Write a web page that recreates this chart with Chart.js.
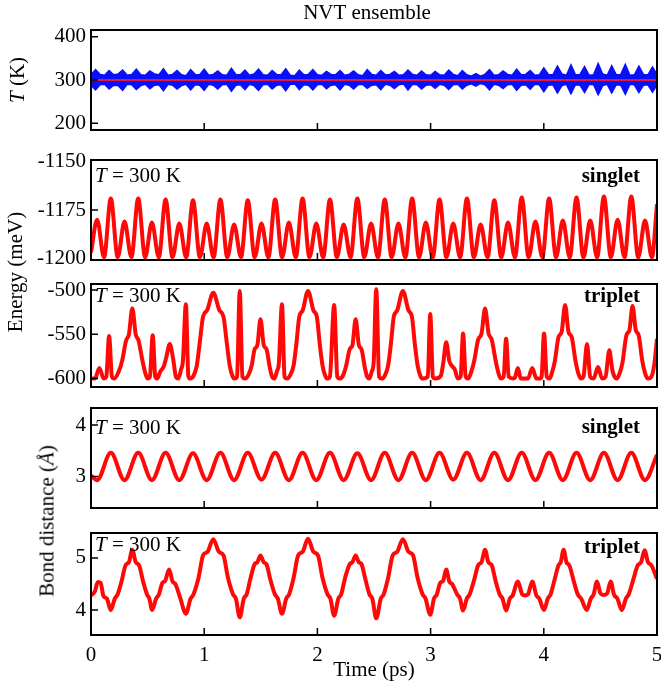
<!DOCTYPE html>
<html>
<head>
<meta charset="utf-8">
<script src="https://cdn.jsdelivr.net/npm/chart.js@4.4.0/dist/chart.umd.min.js"></script>
<style>
  body { margin: 0; background: #fff; width: 661px; height: 683px; position: relative; overflow: hidden; }
  canvas { position: absolute; left: 0; }
  .yt { position: absolute; transform: translate(-50%, -50%) rotate(-90deg); font: 21px 'Liberation Serif', serif; white-space: nowrap; color: #000; }
</style>
</head>
<body>
<canvas id="c1" width="661" height="145" style="top:0px"></canvas>
<canvas id="c2" width="661" height="130" style="top:145px"></canvas>
<canvas id="c3" width="661" height="122" style="top:275px"></canvas>
<canvas id="c4" width="661" height="123" style="top:397px"></canvas>
<canvas id="c5" width="661" height="163" style="top:520px"></canvas>
<div class="yt" style="left:17px;top:80px"><i>T</i> (K)</div>
<div class="yt" style="left:15px;top:272px">Energy (meV)</div>
<div class="yt" style="left:47px;top:521px">Bond distance (<i>Å</i>)</div>
<script>
// x axis
const xTickLabels = [0, 1, 2, 3, 4, 5];
const xInnerTicks = [1, 2, 3, 4];

// temperature panel (sampled every 0.04 ps)
const targetTemp = 300;
const tempUpper = [
  312,324,313,311,322,312,314,323,311,313,325,312,311,321,314,312,326,311,313,322,312,310,324,313,312,
  325,311,313,321,312,311,327,313,312,323,311,314,325,312,311,322,313,312,326,311,310,323,312,313,324,
  312,311,320,313,312,322,311,313,321,312,310,324,313,311,322,312,313,320,311,312,323,313,311,321,312,
  311,320,312,311,323,313,310,322,312,309,315,309,313,324,311,312,321,313,311,325,312,313,322,311,312,
  328,313,312,332,314,311,335,312,313,331,311,312,338,314,311,333,312,313,336,311,312,332,313,312,330,313
];
const tempLower = [
  288,277,289,290,279,288,287,276,290,289,278,287,290,280,288,289,275,290,288,279,287,290,277,289,288,
  276,290,288,279,289,290,274,288,289,278,290,287,276,289,290,279,288,289,275,290,291,278,289,288,277,
  289,290,280,288,289,277,290,288,279,289,290,281,288,289,278,290,288,280,289,291,277,290,289,279,288,
  289,281,290,288,278,289,290,279,288,291,286,292,289,277,290,288,280,289,290,276,288,289,279,290,289,
  273,288,289,270,287,290,268,289,288,271,290,289,266,287,290,270,289,288,267,290,289,271,288,289,272,288
];
const tempTimes = tempUpper.map((_, i) => +(i * 0.04).toFixed(2));
const tempTicks = [200, 300, 400];

// singlet panels (peaks and troughs)
const singletTimes = [0, 0.054, 0.115, 0.175, 0.236, 0.296, 0.357, 0.417, 0.478, 0.538, 0.599, 0.659, 0.720, 0.780,
  0.841, 0.901, 0.962, 1.022, 1.083, 1.143, 1.204, 1.264, 1.325, 1.385, 1.446, 1.506, 1.567, 1.627, 1.688, 1.748,
  1.809, 1.869, 1.930, 1.990, 2.051, 2.111, 2.172, 2.232, 2.293, 2.353, 2.414, 2.474, 2.535, 2.595, 2.656, 2.716,
  2.777, 2.837, 2.898, 2.958, 3.019, 3.079, 3.140, 3.200, 3.261, 3.321, 3.382, 3.442, 3.503, 3.563, 3.624, 3.684,
  3.745, 3.805, 3.866, 3.926, 3.987, 4.047, 4.108, 4.168, 4.229, 4.289, 4.350, 4.410, 4.471, 4.531, 4.592, 4.652,
  4.713, 4.773, 4.834, 4.894, 4.955, 5];
const singletEnergy = [-1197,
  -1180, -1199.5, -1169, -1199.5,   -1181, -1199.5, -1169, -1199.5,
  -1181.5, -1199.5, -1169.5, -1199.5, -1182, -1199.5, -1170, -1199.5,
  -1182, -1199.5, -1169.5, -1199.5, -1182.5, -1199.5, -1170, -1199.5,
  -1182, -1199.5, -1169.5, -1199.5, -1181.5, -1199.5, -1169, -1199.5,
  -1182, -1199.5, -1169.5, -1199.5, -1182.5, -1199.5, -1169, -1199.5,
  -1182, -1199.5, -1169.5, -1199.5, -1182, -1199.5, -1169, -1199.5,
  -1181.5, -1199.5, -1169.5, -1199.5, -1182, -1199.5, -1169, -1199.5,
  -1182.5, -1199.5, -1170, -1199.5, -1181.5, -1199.5, -1168.5, -1199.5,
  -1181, -1199.5, -1169, -1199.5,   -1180.5, -1199.5, -1168.5, -1199.5,
  -1180.5, -1199.5, -1168, -1199.5, -1180, -1199.5, -1168, -1199.5,
  -1180.5, -1199.5,
  -1172];
// bond distance only has extremes on the even slots; null = no reading
const singletBond = [3.02,
  2.93, null, 3.46, null,  2.93, null, 3.46, null,  2.93, null, 3.46, null,  2.93, null, 3.45, null,
  2.93, null, 3.46, null,  2.93, null, 3.46, null,  2.94, null, 3.46, null,  2.93, null, 3.46, null,
  2.93, null, 3.46, null,  2.93, null, 3.45, null,  2.93, null, 3.46, null,  2.93, null, 3.46, null,
  2.93, null, 3.46, null,  2.94, null, 3.46, null,  2.93, null, 3.46, null,  2.93, null, 3.46, null,
  2.93, null, 3.46, null,  2.93, null, 3.46, null,  2.93, null, 3.46, null,  2.93, null, 3.46, null,
  2.93, null,
  3.42];
const energySingletTicks = [-1200, -1175, -1150];
const bondSingletTicks = [3, 4];

// triplet panels [time, value]
const tripletEnergy = [
  [0,-600],[0.035,-600],[0.074,-588],[0.112,-600],
  [0.135,-598],[0.160,-552],[0.185,-598],
  [0.205,-600],[0.245,-592],[0.275,-580],[0.310,-557],[0.335,-550],[0.365,-521],[0.395,-550],[0.420,-557],[0.455,-580],[0.480,-594],[0.500,-600],
  [0.520,-598],[0.545,-551],[0.568,-598],
  [0.585,-600],[0.612,-592],[0.640,-587],[0.665,-576],[0.696,-561],[0.726,-578],[0.750,-598],[0.770,-600],
  [0.795,-590],[0.812,-580],[0.838,-516],[0.860,-597],[0.877,-600],
  [0.905,-597],[0.935,-585],[0.960,-560],[0.990,-530],[1.025,-523],[1.080,-503],[1.135,-523],[1.170,-530],[1.200,-560],[1.225,-585],[1.250,-597],[1.268,-600],
  [1.290,-598],[1.314,-501],[1.338,-598],
  [1.360,-600],[1.390,-596],[1.420,-585],[1.445,-567],[1.470,-562],[1.497,-533],[1.526,-562],[1.551,-567],[1.580,-588],[1.600,-598],[1.620,-600],
  [1.642,-592],[1.660,-582],[1.687,-516],[1.710,-598],[1.731,-600],
  [1.760,-596],[1.790,-585],[1.815,-560],[1.840,-530],[1.870,-523],[1.917,-501],[1.965,-523],[1.995,-530],[2.020,-560],[2.045,-585],[2.070,-597],[2.090,-600],
  [2.110,-598],[2.148,-517],[2.176,-598],
  [2.197,-600],[2.228,-596],[2.255,-585],[2.285,-567],[2.310,-562],[2.338,-533],[2.366,-562],[2.390,-567],[2.420,-588],[2.440,-598],[2.460,-600],
  [2.480,-592],[2.497,-582],[2.520,-499],[2.545,-598],[2.569,-600],
  [2.598,-596],[2.625,-585],[2.650,-560],[2.675,-530],[2.705,-523],[2.755,-501],[2.805,-523],[2.835,-530],[2.860,-560],[2.885,-585],[2.910,-597],[2.930,-600],
  [2.975,-598],[2.997,-527],[3.020,-598],
  [3.042,-600],[3.090,-597],[3.112,-582],[3.138,-559],[3.165,-580],[3.190,-586],[3.215,-590],[3.240,-600],
  [3.265,-598],[3.287,-549],[3.310,-598],
  [3.332,-600],[3.360,-592],[3.385,-580],[3.420,-556],[3.450,-549],[3.481,-521],[3.512,-549],[3.540,-556],[3.575,-580],[3.600,-594],[3.620,-600],
  [3.645,-598],[3.667,-555],[3.690,-598],
  [3.730,-600],[3.745,-599],[3.771,-588],[3.797,-600],[3.860,-600],[3.898,-588],[3.935,-600],[3.965,-600],
  [3.980,-598],[4.002,-549],[4.026,-598],
  [4.051,-600],[4.075,-592],[4.098,-580],[4.130,-553],[4.158,-547],[4.188,-517],[4.218,-547],[4.246,-553],[4.280,-580],[4.305,-594],[4.330,-600],
  [4.350,-598],[4.382,-561],[4.410,-598],
  [4.440,-600],[4.479,-587],[4.515,-600],
  [4.545,-598],[4.579,-568],[4.605,-590],[4.625,-598],[4.645,-600],
  [4.670,-594],[4.695,-582],[4.730,-551],[4.757,-545],[4.784,-518],[4.812,-545],[4.838,-551],[4.870,-580],[4.895,-594],[4.920,-600],
  [4.950,-598],[4.975,-585],[5.0,-555]
];
const tripletBond = [
  [0,4.28],[0.035,4.36],[0.06,4.54],[0.085,4.52],[0.11,4.27],[0.14,4.22],[0.175,4.00],
  [0.21,4.22],[0.235,4.30],[0.27,4.55],[0.305,4.86],[0.335,4.92],[0.365,5.16],[0.395,4.92],[0.425,4.86],[0.46,4.55],[0.495,4.30],[0.515,4.22],[0.54,4.00],
  [0.575,4.22],[0.60,4.30],[0.63,4.52],[0.655,4.56],[0.69,4.78],[0.72,4.55],[0.745,4.50],[0.79,4.22],[0.838,3.93],
  [0.88,4.22],[0.905,4.30],[0.95,4.62],[0.99,5.05],[1.03,5.12],[1.08,5.36],[1.13,5.12],[1.17,5.05],[1.21,4.62],[1.255,4.30],[1.28,4.22],[1.314,3.86],
  [1.35,4.22],[1.375,4.30],[1.41,4.62],[1.445,4.88],[1.47,4.92],[1.497,5.05],[1.525,4.92],[1.55,4.88],[1.585,4.58],[1.625,4.30],[1.65,4.22],[1.687,3.93],
  [1.725,4.22],[1.75,4.30],[1.79,4.62],[1.83,5.05],[1.87,5.12],[1.917,5.37],[1.965,5.12],[2.005,5.05],[2.045,4.62],[2.09,4.30],[2.115,4.22],[2.148,3.89],
  [2.185,4.22],[2.21,4.30],[2.245,4.62],[2.285,4.88],[2.31,4.92],[2.338,5.05],[2.365,4.92],[2.39,4.88],[2.425,4.58],[2.46,4.30],[2.485,4.22],[2.52,3.84],
  [2.56,4.22],[2.585,4.30],[2.625,4.62],[2.665,5.05],[2.705,5.12],[2.755,5.36],[2.805,5.12],[2.845,5.05],[2.885,4.62],[2.93,4.30],[2.955,4.22],[2.997,3.91],
  [3.03,4.22],[3.055,4.30],[3.085,4.52],[3.11,4.56],[3.138,4.78],[3.165,4.55],[3.19,4.50],[3.235,4.30],[3.26,4.22],[3.287,3.99],
  [3.32,4.22],[3.345,4.30],[3.385,4.58],[3.42,4.86],[3.45,4.92],[3.481,5.16],[3.51,4.92],[3.54,4.86],[3.575,4.55],[3.61,4.30],[3.635,4.22],[3.667,3.99],
  [3.70,4.22],[3.725,4.28],[3.771,4.55],[3.81,4.30],[3.835,4.28],[3.86,4.30],[3.898,4.55],[3.935,4.28],[3.96,4.22],[4.002,4.00],
  [4.035,4.22],[4.06,4.30],[4.095,4.58],[4.13,4.86],[4.15,4.92],[4.175,5.16],[4.20,4.92],[4.225,4.86],[4.265,4.55],[4.30,4.30],[4.33,4.22],[4.38,4.00],
  [4.415,4.22],[4.44,4.30],[4.47,4.55],[4.50,4.32],[4.53,4.29],[4.56,4.32],[4.59,4.55],[4.62,4.30],[4.65,4.22],[4.69,4.00],
  [4.725,4.22],[4.75,4.30],[4.79,4.58],[4.83,4.86],[4.86,4.92],[4.89,5.15],[4.92,4.92],[4.95,4.86],[5.0,4.60]
];
const energyTripletTicks = [-600, -550, -500];
const bondTripletTicks = [4, 5];

const FONT = "'Liberation Serif', 'Times New Roman', serif";
const RED = 'rgb(255,8,8)';
const BLUE = 'rgb(8,16,250)';

Chart.defaults.font.family = FONT;
Chart.defaults.font.size = 21;
Chart.defaults.color = '#000';

// box, inward ticks and the small labels inside each panel
const framePlugin = {
  id: 'frame',
  afterDatasetsDraw(chart, args, opts) {
    const { ctx, chartArea: a, scales } = chart;
    ctx.save();
    ctx.strokeStyle = '#000';
    ctx.lineWidth = 2;
    ctx.strokeRect(a.left, a.top, a.right - a.left, a.bottom - a.top);
    ctx.lineWidth = 1.5;
    ctx.beginPath();
    xInnerTicks.forEach(v => {
      const x = scales.x.getPixelForValue(v);
      ctx.moveTo(x, a.bottom);
      ctx.lineTo(x, a.bottom - 7);
    });
    opts.yTicks.forEach(v => {
      const y = scales.y.getPixelForValue(v);
      if (y > a.top + 3 && y < a.bottom - 3) {
        ctx.moveTo(a.left, y);
        ctx.lineTo(a.left + 7, y);
      }
    });
    ctx.stroke();

    ctx.fillStyle = '#000';
    ctx.textBaseline = 'middle';
    if (opts.title) {
      ctx.font = '21px ' + FONT;
      ctx.textAlign = 'center';
      ctx.fillText(opts.title, 367, 13);
    }
    if (opts.tempLabel) {
      const y = a.top + opts.labelDy;
      let x = a.left + 4;
      ctx.textAlign = 'left';
      ctx.font = 'italic 21px ' + FONT;
      ctx.fillText('T', x, y);
      x += ctx.measureText('T').width;
      ctx.font = '21px ' + FONT;
      ctx.fillText(' = 300 K', x, y);
    }
    if (opts.state) {
      ctx.textAlign = 'right';
      ctx.font = 'bold 21px ' + FONT;
      ctx.fillText(opts.state, a.right - 17, a.top + opts.stateDy);
    }
    ctx.restore();
  }
};

function makePanel(id, cfg) {
  const showX = !!cfg.showX;
  return new Chart(document.getElementById(id), {
    type: 'line',
    data: { datasets: cfg.datasets },
    plugins: [framePlugin],
    options: {
      responsive: false,
      animation: false,
      events: [],
      layout: { padding: { left: 0, right: 4, top: cfg.padTop, bottom: cfg.padBottom } },
      elements: { point: { radius: 0 } },
      plugins: {
        legend: { display: false },
        tooltip: { enabled: false },
        frame: Object.assign({ yTicks: cfg.yTicks }, cfg.frame)
      },
      scales: {
        x: {
          type: 'linear', min: 0, max: 5, display: showX,
          grid: { display: false, drawTicks: false },
          border: { display: false },
          afterBuildTicks: s => { s.ticks = xTickLabels.map(v => ({ value: v })); },
          afterFit: s => { if (showX) { s.height = 48; s.paddingLeft = 0; s.paddingRight = 0; } },
          ticks: { padding: 8, maxRotation: 0, callback: v => String(v) },
          title: { display: showX, text: 'Time (ps)', padding: { top: 0, bottom: 0 } }
        },
        y: {
          min: cfg.yMin, max: cfg.yMax,
          grid: { display: false, drawTicks: false },
          border: { display: false },
          afterBuildTicks: s => { s.ticks = cfg.yTicks.map(v => ({ value: v })); },
          afterFit: s => { s.width = 91; s.paddingTop = 0; s.paddingBottom = 0; },
          ticks: { padding: 5, callback: v => String(v) }
        }
      }
    }
  });
}

function redLine(points) {
  return {
    data: points, borderColor: RED, borderWidth: 4,
    cubicInterpolationMode: 'monotone', fill: false, pointRadius: 0
  };
}

// panel 1: temperature
makePanel('c1', {
  padTop: 30, padBottom: 15, yMin: 184.5, yMax: 415.5, yTicks: tempTicks,
  frame: { title: 'NVT ensemble' },
  datasets: [
    { data: [{ x: 0, y: targetTemp }, { x: 5, y: targetTemp }], borderColor: 'rgb(230,20,60)', borderWidth: 2, fill: false },
    { data: tempUpper.map((v, i) => ({ x: tempTimes[i], y: v })), borderColor: BLUE, backgroundColor: BLUE,
      borderWidth: 1.5, tension: 0, fill: '+1' },
    { data: tempLower.map((v, i) => ({ x: tempTimes[i], y: v })), borderColor: BLUE,
      borderWidth: 1.5, tension: 0, fill: false }
  ]
});

// panel 2: singlet energy
makePanel('c2', {
  padTop: 15, padBottom: 15, yMin: -1200.9, yMax: -1149.1, yTicks: energySingletTicks,
  frame: { tempLabel: true, labelDy: 16, state: 'singlet', stateDy: 17 },
  datasets: [redLine(singletEnergy.map((v, i) => ({ x: singletTimes[i], y: v })))]
});

// panel 3: triplet energy
makePanel('c3', {
  padTop: 9, padBottom: 10, yMin: -609.5, yMax: -493.2, yTicks: energyTripletTicks,
  frame: { tempLabel: true, labelDy: 12, state: 'triplet', stateDy: 13 },
  datasets: [redLine(tripletEnergy.map(p => ({ x: p[0], y: p[1] })))]
});

// panel 4: singlet bond distance
makePanel('c4', {
  padTop: 11, padBottom: 12, yMin: 2.39, yMax: 4.33, yTicks: bondSingletTicks,
  frame: { tempLabel: true, labelDy: 20, state: 'singlet', stateDy: 20 },
  datasets: [redLine(singletBond.map((v, i) => ({ x: singletTimes[i], y: v })).filter(p => p.y !== null))]
});

// panel 5: triplet bond distance
makePanel('c5', {
  padTop: 13, padBottom: 0, yMin: 3.52, yMax: 5.48, yTicks: bondTripletTicks, showX: true,
  frame: { tempLabel: true, labelDy: 12, state: 'triplet', stateDy: 15 },
  datasets: [redLine(tripletBond.map(p => ({ x: p[0], y: p[1] })))]
});
</script>
</body>
</html>
